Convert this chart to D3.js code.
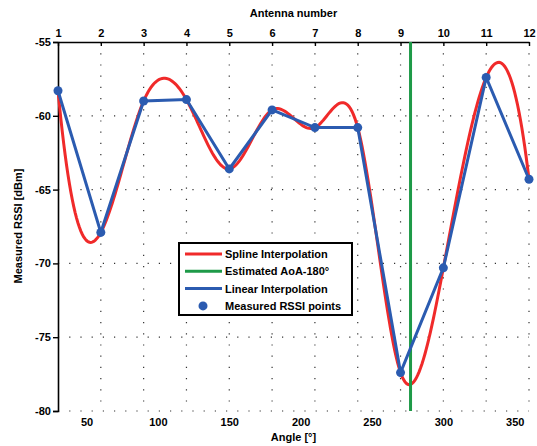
<!DOCTYPE html>
<html>
<head>
<meta charset="utf-8">
<script src="https://cdn.jsdelivr.net/npm/d3@7"></script>
<style>
  body { margin: 0; background: #fff; }
  svg text { font-family: "Liberation Sans", Arial, sans-serif; font-weight: bold; font-size: 11px; fill: #000; }
</style>
</head>
<body>
<div id="chart"></div>
<script>
const angles = [30, 60, 90, 120, 150, 180, 210, 240, 270, 300, 330, 360];
const antennas = [1, 2, 3, 4, 5, 6, 7, 8, 9, 10, 11, 12];
const rssi = [-58.3, -67.9, -59.0, -58.9, -63.6, -59.6, -60.8, -60.8, -77.4, -70.3, -57.4, -64.3];
const aoaAngle = 277;
const angleTicks = [50, 100, 150, 200, 250, 300, 350];
const rssiTicks = [-55, -60, -65, -70, -75, -80];
const legendLabels = ["Spline Interpolation", "Estimated AoA-180°", "Linear Interpolation", "Measured RSSI points"];

const RED = "#f02a2a", GREEN = "#1e9a48", BLUE = "#2b5bb0";

// cubic spline with not-a-knot ends (uniform spacing)
function notAKnot(xs, ys) {
  const n = xs.length, h = xs[1] - xs[0];
  const A = d3.range(n).map(() => new Array(n).fill(0));
  const r = new Array(n).fill(0);
  A[0][0] = 1; A[0][1] = -2; A[0][2] = 1;
  for (let i = 1; i < n - 1; i++) {
    A[i][i - 1] = 1; A[i][i] = 4; A[i][i + 1] = 1;
    r[i] = 6 * (ys[i - 1] - 2 * ys[i] + ys[i + 1]) / (h * h);
  }
  A[n - 1][n - 3] = 1; A[n - 1][n - 2] = -2; A[n - 1][n - 1] = 1;
  // gaussian elimination with pivoting
  for (let c = 0; c < n; c++) {
    let p = c;
    for (let k = c + 1; k < n; k++) if (Math.abs(A[k][c]) > Math.abs(A[p][c])) p = k;
    [A[c], A[p]] = [A[p], A[c]]; [r[c], r[p]] = [r[p], r[c]];
    for (let k = c + 1; k < n; k++) {
      const f = A[k][c] / A[c][c];
      if (!f) continue;
      for (let j = c; j < n; j++) A[k][j] -= f * A[c][j];
      r[k] -= f * r[c];
    }
  }
  const M = new Array(n).fill(0);
  for (let i = n - 1; i >= 0; i--) {
    let s = r[i];
    for (let j = i + 1; j < n; j++) s -= A[i][j] * M[j];
    M[i] = s / A[i][i];
  }
  return x => {
    const i = Math.min(n - 2, Math.max(0, Math.floor((x - xs[0]) / h)));
    const t = x - xs[i];
    const b = (ys[i + 1] - ys[i]) / h - h * (2 * M[i] + M[i + 1]) / 6;
    return ys[i] + b * t + M[i] / 2 * t * t + (M[i + 1] - M[i]) / (6 * h) * t * t * t;
  };
}

const W = 537, H = 446;
const margin = { top: 42, right: 8, bottom: 35, left: 58 };
const width = W - margin.left - margin.right,
  height = H - margin.top - margin.bottom;

const svg = d3.select("#chart").append("svg")
  .attr("width", W).attr("height", H)
  .append("g")
  .attr("transform", `translate(${margin.left},${margin.top})`);

const x = d3.scaleLinear().domain([30, 360]).range([0, width]);
const y = d3.scaleLinear().domain([-55, -80]).range([0, height]);

// dotted grid
svg.append("g").selectAll("line")
  .data(rssiTicks.slice(1)).join("line")
  .attr("x1", 0).attr("x2", width)
  .attr("y1", d => y(d)).attr("y2", d => y(d))
  .attr("stroke", "#333").attr("stroke-width", 1.2)
  .attr("stroke-dasharray", "1.2,10");
svg.append("g").selectAll("line")
  .data(angles.slice(1)).join("line")
  .attr("x1", d => x(d)).attr("x2", d => x(d))
  .attr("y1", 0).attr("y2", height)
  .attr("stroke", "#333").attr("stroke-width", 1.2)
  .attr("stroke-dasharray", "1.2,10");

// axes
const leftAxis = svg.append("g")
  .call(d3.axisLeft(y).tickValues(rssiTicks).tickFormat(d => d).tickSize(5).tickPadding(2));
leftAxis.select(".domain").attr("stroke-width", 1.6);
leftAxis.selectAll(".tick line").attr("stroke-width", 1.4);

const topAxis = svg.append("g")
  .call(d3.axisTop(x).tickValues(angles).tickFormat((d, i) => antennas[i])
    .tickSizeInner(-4).tickSizeOuter(0).tickPadding(5));
topAxis.select(".domain").attr("stroke-width", 1.6);
topAxis.selectAll(".tick line").attr("stroke-width", 1.4);

svg.append("g")
  .attr("transform", `translate(0,${height})`)
  .call(d3.axisBottom(x).tickValues(angleTicks).tickSize(0).tickPadding(7))
  .call(g => g.select(".domain").remove());

svg.selectAll(".tick text").style("font-size", "11px").attr("font-family", null);

// axis titles
svg.append("text").attr("x", width / 2).attr("y", -25)
  .attr("text-anchor", "middle").text("Antenna number");
svg.append("text").attr("x", width / 2).attr("y", height + 30)
  .attr("text-anchor", "middle").text("Angle [°]");
svg.append("text")
  .attr("transform", `translate(${22 - margin.left},${226 - margin.top}) rotate(-90)`)
  .attr("text-anchor", "middle").text("Measured RSSI [dBm]");

// spline curve
const spline = notAKnot(angles, rssi);
const samples = d3.range(angles[0], angles[angles.length - 1] + 0.01, 1);
svg.append("path")
  .datum(samples)
  .attr("fill", "none").attr("stroke", RED).attr("stroke-width", 3)
  .attr("d", d3.line().x(d => x(d)).y(d => y(spline(d))));

// estimated AoA
svg.append("line")
  .attr("x1", x(aoaAngle)).attr("x2", x(aoaAngle))
  .attr("y1", 0).attr("y2", height)
  .attr("stroke", GREEN).attr("stroke-width", 3);

// linear interpolation + points
svg.append("path")
  .datum(angles)
  .attr("fill", "none").attr("stroke", BLUE).attr("stroke-width", 3)
  .attr("d", d3.line().x(d => x(d)).y((d, i) => y(rssi[i])));

svg.append("g").selectAll("circle")
  .data(angles).join("circle")
  .attr("cx", d => x(d)).attr("cy", (d, i) => y(rssi[i]))
  .attr("r", 4.5).attr("fill", BLUE);

// legend
const lg = svg.append("g").attr("transform", `translate(${179 - margin.left},${243 - margin.top})`);
lg.append("rect").attr("width", 173).attr("height", 72)
  .attr("fill", "#fff").attr("stroke", "#000").attr("stroke-width", 2);
const items = lg.selectAll("g").data(legendLabels).join("g")
  .attr("transform", (d, i) => `translate(0,${11 + i * 17.3})`);
items.each(function(d, i) {
  const g = d3.select(this);
  if (i < 3) {
    g.append("line").attr("x1", 6).attr("x2", 43).attr("y1", 0).attr("y2", 0)
      .attr("stroke", [RED, GREEN, BLUE][i]).attr("stroke-width", 3);
  } else {
    g.append("circle").attr("cx", 24).attr("cy", 0).attr("r", 4.5).attr("fill", BLUE);
  }
  g.append("text").attr("x", 46).attr("y", 4).text(d);
});
</script>
</body>
</html>
